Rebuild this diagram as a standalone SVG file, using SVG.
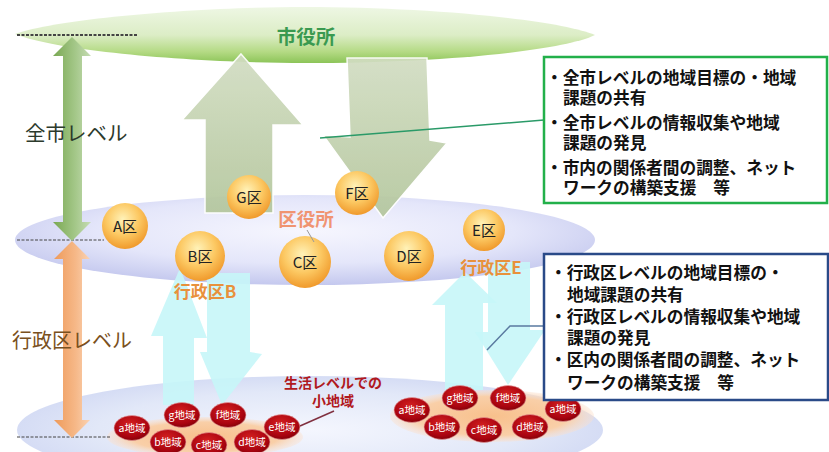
<svg xmlns="http://www.w3.org/2000/svg" width="829" height="452" viewBox="0 0 829 452">
<defs>
<linearGradient id="gTop" x1="0" y1="0" x2="0" y2="1">
<stop offset="0" stop-color="#eef7e4"/><stop offset="0.5" stop-color="#dcedc6"/><stop offset="0.8" stop-color="#b4da84"/><stop offset="1" stop-color="#8cc458"/>
</linearGradient>
<radialGradient id="gLav" cx="0.5" cy="0.4" r="0.6">
<stop offset="0" stop-color="#f6f6fe"/><stop offset="0.6" stop-color="#e4e6fa"/><stop offset="1" stop-color="#c4c8ee"/>
</radialGradient>
<radialGradient id="gLav2" cx="0.5" cy="0.5" r="0.6">
<stop offset="0" stop-color="#f4f6fe"/><stop offset="0.6" stop-color="#e2e8f8"/><stop offset="1" stop-color="#ccd4f2"/>
</radialGradient>
<linearGradient id="gSage" x1="0" y1="0" x2="0" y2="1">
<stop offset="0" stop-color="#d2ddc2"/><stop offset="1" stop-color="#b3c69c"/>
</linearGradient>
<linearGradient id="gGreenArr" x1="0" y1="0" x2="1" y2="0">
<stop offset="0" stop-color="#79a852"/><stop offset="0.6" stop-color="#a5c88a"/><stop offset="1" stop-color="#c6dcb4"/>
</linearGradient>
<linearGradient id="gOrangeArr" x1="0" y1="0" x2="1" y2="0">
<stop offset="0" stop-color="#ee9a5a"/><stop offset="0.6" stop-color="#f6b888"/><stop offset="1" stop-color="#fad2b2"/>
</linearGradient>
<radialGradient id="gKu" cx="0.45" cy="0.35" r="0.65">
<stop offset="0" stop-color="#fff2b8"/><stop offset="0.55" stop-color="#fcc862"/><stop offset="1" stop-color="#f09a2c"/>
</radialGradient>
<radialGradient id="gRed" cx="0.45" cy="0.35" r="0.7">
<stop offset="0" stop-color="#d42020"/><stop offset="0.7" stop-color="#aa0410"/><stop offset="1" stop-color="#7a0006"/>
</radialGradient>
<radialGradient id="gPeach" cx="0.5" cy="0.5" r="0.5">
<stop offset="0" stop-color="#f8c08c"/><stop offset="0.75" stop-color="#f9cfa8"/><stop offset="1" stop-color="#fbe0cc" stop-opacity="0.4"/>
</radialGradient>
</defs>
<style>
.jp{font-family:"Noto Sans CJK JP","Noto Sans",sans-serif}
.ku{fill:url(#gKu)}
.kut{font-family:"Noto Sans CJK JP","Noto Sans",sans-serif;font-size:15px;fill:#222;text-anchor:middle}
.red{fill:url(#gRed);stroke:#e8a0a0;stroke-width:0.6}
.redt{font-family:"Noto Sans CJK JP","Noto Sans",sans-serif;font-size:10.5px;fill:#fff;text-anchor:middle}
.sage{fill:url(#gSage);stroke:#ffffff;stroke-width:1.5;opacity:0.92}
.cyan{fill:#c6f6f8;opacity:0.9}
.box{font-family:"Noto Sans CJK JP","Noto Sans",sans-serif;font-size:16.7px;font-weight:700;fill:#111}
.dash{stroke:#444;stroke-dasharray:3 1.5;fill:none}
</style>
<rect width="829" height="452" fill="#ffffff"/>

<!-- levels -->
<g id="level-seikatsu">
<ellipse cx="310" cy="430" rx="293" ry="54" fill="url(#gLav2)"/>
</g>
<g id="level-kuyakusho">
<ellipse cx="305" cy="240" rx="290" ry="45" fill="url(#gLav)"/>
</g>
<g id="shiyakusho">
<path d="M15,34 C60,18 200,7 305,7 C430,7 560,20 595,35 C560,52 430,63 305,63 C200,63 60,52 15,34 Z" fill="url(#gTop)"/>
<text class="jp" x="306" y="44" font-size="19.5" font-weight="700" fill="#3a9a50" text-anchor="middle">市役所</text>
</g>

<!-- flow arrows -->
<g id="flows">
<path class="sage" d="M241,54 L303,125 L273,125 L273,213 L205,213 L205,120 L182,120 Z"/>
<path class="sage" d="M347,58 L427,58 L430,140 L447,143 L383,218 L323,135 L350,137 Z"/>
<path class="cyan" d="M180,268 L207,338 L194,338 L194,405 L163,405 L163,336 L151,336 Z"/>
<path class="cyan" d="M207,273 L250,273 L250,352 L262,354 L222,405 L200,352 L207,352 Z"/>
<path class="cyan" d="M465,272 L497,303 L483,303 L483,390 L445,390 L445,305 L432,305 Z"/>
<path class="cyan" d="M488,262 L530,262 L530,330 L545,330 L508,385 L475,332 L488,332 Z"/>
</g>

<!-- small area clusters -->
<g id="cluster-B">
<ellipse cx="205" cy="437" rx="98" ry="20" fill="url(#gPeach)"/>
<g id="B-a"><ellipse class="red" cx="132" cy="428" rx="18" ry="12.5"/><text class="redt" x="132" y="432">a地域</text></g>
<g id="B-g"><ellipse class="red" cx="182" cy="415" rx="18" ry="12.5"/><text class="redt" x="182" y="419">g地域</text></g>
<g id="B-f"><ellipse class="red" cx="228" cy="415" rx="18" ry="12.5"/><text class="redt" x="228" y="419">f地域</text></g>
<g id="B-e"><ellipse class="red" cx="282" cy="427" rx="18" ry="12.5"/><text class="redt" x="282" y="431">e地域</text></g>
<g id="B-b"><ellipse class="red" cx="168" cy="442" rx="18" ry="12.5"/><text class="redt" x="168" y="446">b地域</text></g>
<g id="B-c"><ellipse class="red" cx="209" cy="445" rx="18" ry="12.5"/><text class="redt" x="209" y="449">c地域</text></g>
<g id="B-d"><ellipse class="red" cx="252" cy="442" rx="18" ry="12.5"/><text class="redt" x="252" y="446">d地域</text></g>
</g>
<g id="cluster-E">
<ellipse cx="492" cy="416" rx="102" ry="26" fill="url(#gPeach)"/>
<g id="E-a"><ellipse class="red" cx="412" cy="410" rx="18" ry="12.5"/><text class="redt" x="412" y="414">a地域</text></g>
<g id="E-g"><ellipse class="red" cx="460" cy="398" rx="18" ry="12.5"/><text class="redt" x="460" y="402">g地域</text></g>
<g id="E-f"><ellipse class="red" cx="508" cy="398" rx="18" ry="12.5"/><text class="redt" x="508" y="402">f地域</text></g>
<g id="E-e"><ellipse class="red" cx="563" cy="409" rx="18" ry="12.5"/><text class="redt" x="563" y="413">a地域</text></g>
<g id="E-b"><ellipse class="red" cx="442" cy="427" rx="18" ry="12.5"/><text class="redt" x="442" y="431">b地域</text></g>
<g id="E-c"><ellipse class="red" cx="484" cy="430" rx="18" ry="12.5"/><text class="redt" x="484" y="434">c地域</text></g>
<g id="E-d"><ellipse class="red" cx="530" cy="427" rx="18" ry="12.5"/><text class="redt" x="530" y="431">d地域</text></g>
</g>
<g id="label-shochiiki">
<text class="jp" font-size="14" font-weight="700" fill="#b01820" text-anchor="middle"><tspan x="333" y="388">生活レベルでの</tspan><tspan x="333" y="406">小地域</tspan></text>
</g>

<!-- wards -->
<g id="ku-A"><circle class="ku" cx="125" cy="226" r="23"/><text class="kut" x="125" y="232">A区</text></g>
<g id="ku-G"><circle class="ku" cx="249" cy="197" r="22"/><text class="kut" x="249" y="203">G区</text></g>
<g id="ku-F"><circle class="ku" cx="357" cy="193" r="22"/><text class="kut" x="357" y="199">F区</text></g>
<g id="ku-B"><circle class="ku" cx="200" cy="256" r="25"/><text class="kut" x="200" y="262">B区</text></g>
<g id="ku-C"><circle class="ku" cx="305" cy="262" r="26"/><text class="kut" x="305" y="268">C区</text></g>
<g id="ku-D"><circle class="ku" cx="409" cy="256" r="25"/><text class="kut" x="409" y="262">D区</text></g>
<g id="ku-E"><circle class="ku" cx="484" cy="230" r="21"/><text class="kut" x="484" y="236">E区</text></g>
<g id="label-kuyakusho">
<text class="jp" x="306" y="226" font-size="18.5" font-weight="700" fill="#f09472" text-anchor="middle">区役所</text>
</g>
<g id="label-gyoseiku-B"><text class="jp" x="205" y="298" font-size="17" font-weight="700" fill="#e8913c" text-anchor="middle">行政区B</text></g>
<g id="label-gyoseiku-E"><text class="jp" x="491" y="274" font-size="17" font-weight="700" fill="#e8913c" text-anchor="middle">行政区E</text></g>

<!-- level scale -->
<g id="scale">
<line class="dash" x1="17" y1="35" x2="137" y2="35" stroke-width="2"/>
<line class="dash" x1="17" y1="240" x2="104" y2="240" stroke-width="1"/>
<line class="dash" x1="17" y1="437" x2="110" y2="437" stroke-width="1"/>
<path d="M72,37 L91,56 L82,56 L82,222 L91,222 L72,241 L53,222 L63,222 L63,56 L53,56 Z" fill="url(#gGreenArr)"/>
<path d="M72,241 L90,259 L82,259 L82,420 L90,420 L72,438 L54,420 L63,420 L63,259 L54,259 Z" fill="url(#gOrangeArr)"/>
<text class="jp" x="25" y="141" font-size="20.5" fill="#2c3a2c">全市レベル</text>
<text class="jp" x="12" y="348" font-size="20" fill="#7a5020">行政区レベル</text>
</g>

<!-- connectors -->
<g id="connectors" fill="none" stroke-width="1.5">
<line x1="320" y1="138" x2="544" y2="120" stroke="#2a9a68"/>
<polyline points="487,350 510,326 544,326" stroke="#5a7aa0"/>
<line x1="334" y1="411" x2="300" y2="426" stroke="#803040"/>
<line x1="307" y1="230" x2="314" y2="242" stroke="#999" stroke-width="1"/>
</g>

<!-- boxes -->
<g id="box-city">
<rect x="544" y="57" width="283" height="146" fill="#fff" stroke="#22b04a" stroke-width="2.5"/>
<text class="box"><tspan x="546" y="84">・全市レベルの地域目標の・地域</tspan><tspan x="563" y="104">課題の共有</tspan><tspan x="546" y="129">・全市レベルの情報収集や地域</tspan><tspan x="563" y="149">課題の発見</tspan><tspan x="546" y="174">・市内の関係者間の調整、ネット</tspan><tspan x="563" y="194">ワークの構築支援　等</tspan></text>
</g>
<g id="box-ward">
<rect x="544" y="254" width="284" height="146" fill="#fff" stroke="#2a4a88" stroke-width="2.5"/>
<text class="box"><tspan x="550" y="279">・行政区レベルの地域目標の・</tspan><tspan x="567" y="301">地域課題の共有</tspan><tspan x="550" y="323">・行政区レベルの情報収集や地域</tspan><tspan x="567" y="344">課題の発見</tspan><tspan x="550" y="366">・区内の関係者間の調整、ネット</tspan><tspan x="567" y="389">ワークの構築支援　等</tspan></text>
</g>
</svg>
